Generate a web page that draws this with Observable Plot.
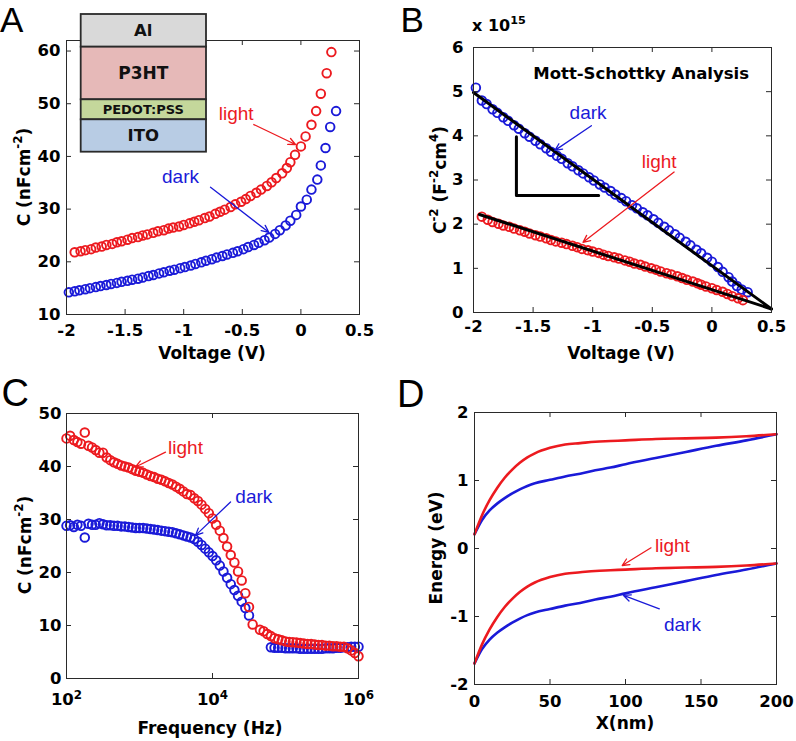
<!DOCTYPE html>
<html><head><meta charset="utf-8">
<script src="https://cdn.jsdelivr.net/npm/d3@7"></script>
<script src="https://cdn.jsdelivr.net/npm/@observablehq/plot@0.6"></script>
<style>
html,body{margin:0;padding:0;background:#fff;}
#fig{position:relative;width:796px;height:741px;overflow:hidden;background:#fff;}
#fig svg{position:absolute;overflow:visible;}
</style></head><body><div id="fig"></div>
<script>
// ---------- Panel A / B : C-V and Mott-Schottky ----------
const voltLight = [-1.93,-1.88,-1.84,-1.79,-1.75,-1.70,-1.66,-1.61,-1.57,-1.53,-1.48,-1.44,-1.39,-1.35,-1.31,-1.26,-1.22,-1.17,-1.13,-1.09,-1.04,-1.00,
  -0.95,-0.91,-0.87,-0.82,-0.78,-0.73,-0.69,-0.65,-0.60,-0.56,-0.51,-0.47,-0.43,-0.38,-0.34,-0.29,-0.25,-0.21,-0.16,-0.12,-0.09,-0.05,
  0.00,0.04,0.09,0.13,0.17,0.22,0.26];
const capLight = [21.8,22.0,22.2,22.4,22.7,22.9,23.2,23.4,23.7,23.9,24.2,24.5,24.7,25.0,25.2,25.5,25.8,26.0,26.3,26.5,26.7,27.0,
  27.3,27.6,27.9,28.3,28.6,29.1,29.5,29.9,30.4,30.9,31.4,31.9,32.5,33.1,33.7,34.4,35.1,35.9,36.8,37.8,38.9,40.3,
  41.9,43.8,46.0,48.6,51.9,55.8,59.8];
const voltDark = [-1.98,-1.93,-1.89,-1.84,-1.80,-1.75,-1.71,-1.66,-1.62,-1.57,-1.53,-1.48,-1.44,-1.39,-1.35,-1.30,-1.26,-1.21,-1.17,-1.12,-1.08,-1.03,
  -0.99,-0.94,-0.90,-0.85,-0.81,-0.76,-0.72,-0.67,-0.63,-0.58,-0.54,-0.49,-0.45,-0.40,-0.36,-0.31,-0.27,-0.22,-0.18,-0.13,-0.09,-0.04,
  0.00,0.05,0.09,0.14,0.17,0.21,0.25,0.30];
const capDark = [14.2,14.4,14.6,14.8,15.0,15.2,15.4,15.6,15.8,16.0,16.2,16.4,16.6,16.8,17.0,17.3,17.5,17.8,18.0,18.3,18.5,18.8,
  19.0,19.3,19.6,19.9,20.2,20.5,20.8,21.1,21.4,21.7,22.0,22.4,22.8,23.2,23.6,24.1,24.6,25.3,26.0,26.9,27.8,28.9,
  30.5,31.8,33.7,35.6,38.3,41.6,45.6,48.6];
// C^-2 in units of 1e15 F^-2 cm^4
const msLight = [2.17,2.10,2.05,2.01,1.97,1.94,1.90,1.86,1.83,1.79,1.75,1.72,1.68,1.64,1.61,1.58,1.55,1.51,1.48,1.44,1.41,1.38,
  1.35,1.31,1.28,1.25,1.22,1.18,1.15,1.11,1.08,1.04,1.00,0.97,0.93,0.89,0.86,0.82,0.78,0.74,0.70,0.66,0.63,0.59,
  0.55,0.51,0.47,0.42,0.37,0.32,0.28];
const msDark = [5.09,4.80,4.72,4.60,4.52,4.42,4.34,4.24,4.16,4.06,3.98,3.89,3.81,3.72,3.64,3.55,3.48,3.38,3.31,3.22,3.15,3.06,
  2.99,2.90,2.83,2.75,2.67,2.59,2.52,2.43,2.36,2.27,2.20,2.11,2.03,1.94,1.86,1.77,1.69,1.60,1.52,1.42,1.34,1.24,
  1.15,1.03,0.92,0.80,0.70,0.60,0.52,0.46];
const fitDarkV = [-2.0, 0.5], fitDarkY = [4.98, 0.08];
const fitLightV = [-1.95, 0.5], fitLightY = [2.22, 0.08];
const slopeV = [-1.64, -1.64, -0.95], slopeY = [3.98, 2.65, 2.65];

// ---------- Panel C : C-f ----------
const freq = [100,112,126,141,158,178,200,224,251,282,316,355,398,447,501,562,631,708,794,891,
  1000,1122,1259,1413,1585,1778,1995,2239,2512,2818,3162,3548,3981,4467,5012,5623,6310,7079,7943,8913,
  10000,11220,12589,14125,15849,17783,19953,22387,25119,28184,31623,35481,39811,44668,50119,56234,63096,70795,79433,89125,
  100000,112202,125893,141254,158489,177828,199526,223872,251189,281838,316228,354813,398107,446684,501187,562341,630957,707946,794328,891251,
  1000000];
const capFLight = [45.3,45.8,45.0,44.6,44.3,46.4,43.9,43.6,43.1,42.6,42.6,41.7,41.2,40.8,40.5,40.2,40.0,39.8,39.5,39.2,
  39.0,38.8,38.5,38.2,38.0,37.7,37.5,37.2,36.9,36.6,36.2,35.8,35.3,34.8,34.6,34.0,33.5,32.8,32.0,31.2,
  30.2,29.0,27.9,26.5,24.9,23.3,21.9,20.2,18.5,16.1,13.5,10.2,null,9.2,8.9,8.4,8.0,7.6,7.4,7.2,
  7.0,6.9,6.85,6.8,6.7,6.6,6.5,6.5,6.4,6.3,6.3,6.2,6.2,6.1,6.1,6.0,6.0,5.7,5.3,4.8,
  4.2];
const capFDark = [28.8,28.9,28.6,29.0,28.8,26.6,29.2,29.0,29.0,29.3,29.1,28.9,28.9,28.8,28.8,28.7,28.7,28.6,28.5,28.4,
  28.4,28.4,28.3,28.2,28.1,28.0,27.9,27.8,27.7,27.6,27.4,27.2,27.0,26.8,26.6,26.3,25.8,25.2,24.5,23.8,
  23.1,22.3,21.3,20.2,19.0,17.8,16.7,15.6,14.5,13.3,11.9,null,null,null,null,null,5.9,5.8,5.8,5.8,
  5.7,5.7,5.7,5.7,5.6,5.6,5.6,5.6,5.6,5.6,5.6,5.7,5.7,5.7,5.8,5.8,5.9,5.9,6.0,6.0,
  6.0];

// ---------- Panel D : band diagram ----------
const xnm = [0,5,10,15,20,25,30,35,40,50,60,70,80,90,100,120,140,160,180,200];
const cbLight = [0.21,0.49,0.71,0.89,1.04,1.16,1.26,1.34,1.40,1.48,1.53,1.55,1.57,1.58,1.59,1.61,1.62,1.63,1.65,1.68];
const cbDark  = [0.21,0.42,0.56,0.66,0.74,0.81,0.87,0.92,0.96,1.01,1.06,1.10,1.15,1.19,1.24,1.33,1.42,1.51,1.59,1.68];
const vbLight = [-1.69,-1.41,-1.19,-1.01,-0.86,-0.74,-0.64,-0.56,-0.50,-0.42,-0.37,-0.35,-0.33,-0.32,-0.31,-0.29,-0.28,-0.27,-0.25,-0.22];
const vbDark  = [-1.69,-1.48,-1.34,-1.24,-1.16,-1.09,-1.03,-0.98,-0.94,-0.89,-0.84,-0.80,-0.75,-0.71,-0.66,-0.57,-0.48,-0.39,-0.31,-0.22];

// ---------- tick values ----------
const voltTicks = [-2,-1.5,-1,-0.5,0,0.5];
const capTicksA = [10,20,30,40,50,60];
const msTicks = [0,1,2,3,4,5,6];
const freqTicks = [1e2,1e4,1e6];
const capTicksC = [0,10,20,30,40,50];
const nmTicks = [0,50,100,150,200];
const eTicks = [-2,-1,0,1,2];

// ---------- annotations (data units) ----------
const labelsA = [{x:-0.552,y:48.1,t:"light",c:"light"},{x:-1.027,y:36.05,t:"dark",c:"dark"}];
const arrowsA = [{x1:-0.402,y1:46.05,x2:-0.046,y2:42.26,c:"light"},{x1:-0.771,y1:34.16,x2:-0.274,y2:25.6,c:"dark"}];
const labelsB = [{x:-1.039,y:4.53,t:"dark",c:"dark"},{x:-0.442,y:3.40,t:"light",c:"light"}];
const arrowsB = [{x1:-1.011,y1:4.23,x2:-1.317,y2:3.67,c:"dark"},{x1:-0.317,y1:3.18,x2:-1.081,y2:1.59,c:"light"}];
const labelsC = [{x:4266,y:43.6,t:"light",c:"light"},{x:36800,y:34.2,t:"dark",c:"dark"}];
const arrowsC = [{x1:2270,y1:42.7,x2:881,y2:39.9,c:"light"},{x1:17660,y1:33.3,x2:5850,y2:27.0,c:"dark"}];
const labelsD = [{x:131.1,y:0.044,t:"light",c:"light"},{x:137.7,y:-1.13,t:"dark",c:"dark"}];
const arrowsD = [{x1:116.9,y1:0.01,x2:97.8,y2:-0.25,c:"light"},{x1:122.4,y1:-0.887,x2:98.7,y2:-0.69,c:"dark"}];
const stackNames = ["Al","P3HT","PEDOT:PSS","ITO"];
const stackFills = ["#d9d9d9","#e6b9b8","#c4d79b","#b8cce4"];

// ---------- helpers ----------
const FONT_B = '"DejaVu Sans", sans-serif';
const FONT_R = '"Liberation Sans", Arial, sans-serif';
const COL = {light: "#ec1a1f", dark: "#1a1ad8"};
const zip = (xs, ys) => xs.map((x, i) => ({x, y: ys[i]})).filter(d => d.y != null);

function annot(labels, arrows) {
  const out = [];
  for (const k of ["light", "dark"]) {
    out.push(Plot.arrow(arrows.filter(d => d.c === k), {x1: "x1", y1: "y1", x2: "x2", y2: "y2", stroke: COL[k], strokeWidth: 1.3, headLength: 9, headAngle: 50}));
    out.push(Plot.text(labels.filter(d => d.c === k), {x: "x", y: "y", text: "t", fill: COL[k], fontSize: 19, fontFamily: FONT_R, fontWeight: "normal"}));
  }
  return out;
}
function circles(xs, ys, k) {
  return Plot.dot(zip(xs, ys), {x: "x", y: "y", r: 4.3, stroke: COL[k], strokeWidth: 1.9, fill: "none"});
}
function panel(cfg) {
  const {x, y, xTicks, yTicks, xFmt, yFmt, xPad, yPad, marks, width, height, m} = cfg;
  const [x0, x1] = x.domain, [y0, y1] = y.domain;
  const T = 5, tc = "#2a2a2a";
  return Plot.plot({
    width, height, marginTop: m[0], marginRight: m[1], marginBottom: m[2], marginLeft: m[3],
    style: {fontFamily: FONT_B, fontSize: "16.5px", fontWeight: "bold", background: "none", overflow: "visible", color: "#000"},
    x: {...x, label: null}, y: {...y, label: null},
    marks: [
      ...marks,
      Plot.ruleX(xTicks, {x: d => d, y1: () => y0, y2: () => y0, insetTop: -T, stroke: tc}),
      Plot.ruleX(xTicks, {x: d => d, y1: () => y1, y2: () => y1, insetBottom: -T, stroke: tc}),
      Plot.ruleY(yTicks, {y: d => d, x1: () => x0, x2: () => x0, insetRight: -T, stroke: tc}),
      Plot.ruleY(yTicks, {y: d => d, x1: () => x1, x2: () => x1, insetLeft: -T, stroke: tc}),
      Plot.frame({stroke: tc}),
      Plot.axisX({ticks: xTicks, tickSize: 0, tickPadding: xPad, tickFormat: xFmt, anchor: "bottom", label: null}),
      Plot.axisY({ticks: yTicks, tickSize: 0, tickPadding: yPad, tickFormat: yFmt, anchor: "left", label: null})
    ]
  });
}
function rich(svg, x, y, parts, o = {}) {
  const size = o.size || 17;
  const t = d3.select(svg).append("text")
    .attr("transform", `translate(${x},${y})` + (o.rotate ? ` rotate(${o.rotate})` : ""))
    .attr("text-anchor", o.anchor || "middle")
    .attr("font-family", o.family || FONT_B)
    .attr("font-weight", o.weight || "bold")
    .attr("font-size", size)
    .attr("fill", "#000");
  let up = false;
  for (const p of parts) {
    const sup = p.startsWith("^");
    const s = t.append("tspan").text(sup ? p.slice(1) : p);
    if (sup) { s.attr("font-size", size * 0.7); if (!up) s.attr("dy", -0.45 * size); up = true; }
    else if (up) { s.attr("dy", 0.45 * size); up = false; }
  }
  return t;
}
function place(svg, left, top) {
  svg.style.left = left + "px"; svg.style.top = top + "px";
  document.getElementById("fig").appendChild(svg);
  return svg;
}
const fmt = d => String(d);

// ---------- Panel A ----------
const svgA = place(panel({
  width: 398, height: 370, m: [40, 39, 56, 66],
  x: {domain: [-2, 0.5]}, y: {domain: [10, 62]},
  xTicks: voltTicks, yTicks: capTicksA, xFmt: fmt, yFmt: fmt, xPad: 10, yPad: 6,
  marks: [circles(voltDark, capDark, "dark"), circles(voltLight, capLight, "light"), ...annot(labelsA, arrowsA)]
}), 0, 0);
rich(svgA, 30, 177, ["C (nFcm", "^-2", ")"], {rotate: -90});
rich(svgA, 212, 359, ["Voltage (V)"]);
rich(svgA, 0, 32, ["A"], {anchor: "start", family: FONT_R, weight: "normal", size: 35});
{
  const g = d3.select(svgA).append("g");
  const bounds = [14, 46.7, 99.3, 119.3, 151.7], sizes = [16.5, 17, 13, 16.5];
  stackNames.forEach((n, i) => {
    g.append("rect").attr("x", 80.7).attr("y", bounds[i]).attr("width", 125.3).attr("height", bounds[i + 1] - bounds[i])
      .attr("fill", stackFills[i]).attr("stroke", "#2a2a2a").attr("stroke-width", 1.8);
    g.append("text").attr("x", 143.3).attr("y", (bounds[i] + bounds[i + 1]) / 2).attr("dy", "0.36em")
      .attr("text-anchor", "middle").attr("font-family", FONT_B).attr("font-weight", "bold").attr("font-size", sizes[i])
      .attr("fill", "#111").text(n);
  });
}

// ---------- Panel B ----------
const svgB = place(panel({
  width: 398, height: 370, m: [47, 25, 58, 75],
  x: {domain: [-2, 0.5]}, y: {domain: [0, 6]},
  xTicks: voltTicks, yTicks: msTicks, xFmt: fmt, yFmt: fmt, xPad: 8, yPad: 10,
  marks: [
    circles(voltDark, msDark, "dark"), circles(voltLight, msLight, "light"),
    Plot.line(zip(fitDarkV, fitDarkY), {x: "x", y: "y", stroke: "#000", strokeWidth: 3}),
    Plot.line(zip(fitLightV, fitLightY), {x: "x", y: "y", stroke: "#000", strokeWidth: 3}),
    Plot.line(zip(slopeV, slopeY), {x: "x", y: "y", stroke: "#000", strokeWidth: 3}),
    Plot.text([{x: -0.594, y: 5.40}], {x: "x", y: "y", text: () => "Mott-Schottky Analysis", fontSize: 16.5, fontWeight: "bold"}),
    ...annot(labelsB, arrowsB)
  ]
}), 398, 0);
rich(svgB, 48, 180, ["C", "^-2", " (F", "^-2", "cm", "^4", ")"], {rotate: -90});
rich(svgB, 223, 359, ["Voltage (V)"]);
rich(svgB, 74, 31, ["x 10", "^15"], {anchor: "start", size: 16});
rich(svgB, 2.5, 32, ["B"], {anchor: "start", family: FONT_R, weight: "normal", size: 35});

// ---------- Panel C ----------
const svgC = place(panel({
  width: 398, height: 371, m: [43, 40, 63, 66],
  x: {type: "log", domain: [1e2, 1e6]}, y: {domain: [0, 50]},
  xTicks: freqTicks, yTicks: capTicksC, xFmt: d => "10^" + Math.round(Math.log10(d)), yFmt: fmt, xPad: 15, yPad: 5,
  marks: [circles(freq, capFDark, "dark"), circles(freq, capFLight, "light"), ...annot(labelsC, arrowsC)]
}), 0, 370);
d3.select(svgC).selectAll("text").each(function () {
  const s = this.textContent;
  if (/^10\^\d$/.test(s)) {
    this.textContent = "";
    d3.select(this).append("tspan").text("10");
    d3.select(this).append("tspan").attr("dy", "-0.5em").attr("font-size", "0.72em").text(s.slice(3));
  }
});
rich(svgC, 31, 175, ["C (nFcm", "^-2", ")"], {rotate: -90});
rich(svgC, 210, 364, ["Frequency (Hz)"]);
rich(svgC, 1.5, 36, ["C"], {anchor: "start", family: FONT_R, weight: "normal", size: 38});

// ---------- Panel D ----------
const svgD = place(panel({
  width: 398, height: 371, m: [42, 20, 57, 76],
  x: {domain: [0, 200]}, y: {domain: [-2, 2]},
  xTicks: nmTicks, yTicks: eTicks, xFmt: fmt, yFmt: fmt, xPad: 11, yPad: 6,
  marks: [
    Plot.line(zip(xnm, cbDark), {x: "x", y: "y", stroke: COL.dark, strokeWidth: 2.6, curve: "monotone-x"}),
    Plot.line(zip(xnm, vbDark), {x: "x", y: "y", stroke: COL.dark, strokeWidth: 2.6, curve: "monotone-x"}),
    Plot.line(zip(xnm, cbLight), {x: "x", y: "y", stroke: COL.light, strokeWidth: 2.6, curve: "monotone-x"}),
    Plot.line(zip(xnm, vbLight), {x: "x", y: "y", stroke: COL.light, strokeWidth: 2.6, curve: "monotone-x"}),
    ...annot(labelsD, arrowsD)
  ]
}), 398, 370);
rich(svgD, 44, 178, ["Energy (eV)"], {rotate: -90});
rich(svgD, 227, 359, ["X(nm)"]);
rich(svgD, -1, 37, ["D"], {anchor: "start", family: FONT_R, weight: "normal", size: 38});
</script></body></html>
